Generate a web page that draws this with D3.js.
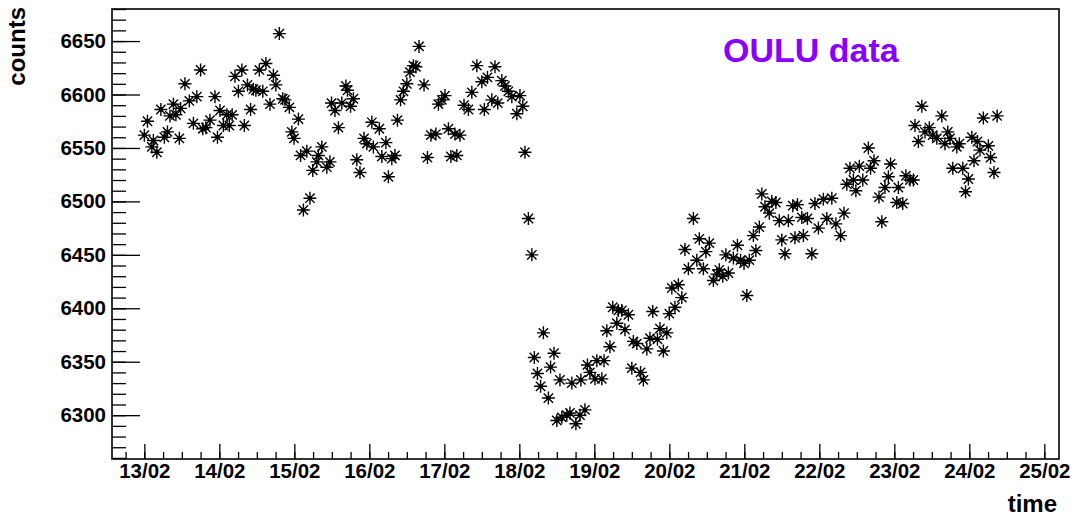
<!DOCTYPE html>
<html>
<head>
<meta charset="utf-8">
<script src="https://cdn.jsdelivr.net/npm/d3@7"></script>
<style>
body { margin: 0; background: #fff; }
svg { display: block; }
text { font-family: "Liberation Sans", Arial, sans-serif; font-weight: bold; }
</style>
</head>
<body>
<div id="chart"></div>
<script>
// hours after 13/02 00:00
const hours = [0, 1, 2.4, 2.9, 4, 5.3, 6.4, 7.4, 8.2, 9.3, 10.1, 11.2, 11.6, 13, 14.4, 15.7, 16.8, 18, 18.7, 19.7,
	21, 22.6, 23.4, 24.2, 25.3, 26.4, 27.2, 28.1, 29, 30.1, 31.2, 32, 33, 34, 34.9, 35.7, 36.8, 37.9, 38.9, 40.2,
	41.3, 42.1, 43.2, 44.3, 45, 46.4, 47.2, 47.9, 49.3, 50, 50.9, 52, 53, 53.9, 55.2, 55.7, 56.8, 58.4, 59.4, 59.9,
	61, 62.1, 63.2, 64.5, 65, 66, 66.9, 68, 69, 70.3, 71.2, 72.8, 73.3, 75.2, 76, 77.3, 78.1, 79.2, 80.2, 81,
	82, 82.9, 84, 85, 86.1, 86.9, 87.9, 89.5, 90.6, 91.7, 93.3, 94.1, 95.2, 96.2, 97.3, 98.1, 99.4, 100, 101, 102.3,
	103.7, 104.8, 106.4, 108, 108.8, 109.8, 111.2, 112.2, 113.1, 114.4, 115.4, 116.5, 117.6, 119.2, 120.2, 121.1, 121.8, 122.9,
	124, 124.8, 125.8, 126.8, 127.7, 129.3, 130, 131.1, 132, 133, 133.6, 135.2, 136.2, 136.8, 138.1, 139.4, 139.7, 141, 141.8,
	142.6, 144.2, 144.8, 146.4, 147.1, 148, 149, 149.9, 151.2, 151.7,
	152.8, 153.8, 154.9, 156, 156.5, 157.6, 158.8, 159.7, 160.8, 161.8, 162.7, 164.2, 165, 166.1, 167.2, 168, 168.8, 169.8,
	170.9, 172, 173, 174.1, 175.7, 176.8, 177.6, 178.9, 179.7, 180.8, 182.1, 183.2, 184, 185.1, 186.1, 186.9, 188.5, 189.8,
	190.8, 191.9, 192.8, 193.6, 194.9, 195.7, 196.8, 197.6, 198.6, 200, 200.8, 202.1, 203.2, 204, 205, 206.1, 207.5, 208.2, 209,
	210.4, 210.9, 212.2, 213.6, 214.6, 215.7, 217.3, 218.4, 220, 221.3, 222.8, 223.9, 224.8, 225.8, 226.9, 227.7, 228.8, 229.9,
	231.7, 232.4, 233.5, 235.1, 236, 237, 238.1, 238.8, 240.8, 241.3, 242.7, 243.7, 245, 246.1, 246.6, 247.7, 248.8, 249.8,
	251.2, 252.3, 253.6, 255.2, 256.2, 257.1, 257.8, 258.7, 260, 260.8, 261.9, 262.8, 263.7, 264.8, 265.5, 266.6, 267.4, 268.5,
	270.1, 270.8, 271.9, 272.9]

const counts = [6562, 6575, 6551, 6557, 6546, 6586, 6560, 6565, 6580, 6591, 6581, 6559, 6587, 6610, 6594, 6573, 6598, 6623, 6568, 6569,
	6576, 6598, 6560, 6585, 6571, 6581, 6571, 6581, 6617, 6603, 6623, 6571, 6609, 6586, 6605, 6604, 6623, 6603, 6629, 6591,
	6618, 6609, 6657, 6596, 6595, 6588, 6565, 6559, 6577, 6543, 6492, 6547, 6503, 6529, 6537, 6543, 6551, 6532, 6537, 6592,
	6585, 6569, 6592, 6608, 6604, 6589, 6596, 6539, 6527, 6559, 6554, 6574, 6551, 6568, 6542, 6555, 6523, 6540, 6543, 6576,
	6595, 6603, 6610, 6621, 6627, 6626, 6645, 6609, 6541, 6562, 6563, 6591, 6595, 6599, 6568, 6542, 6563, 6543, 6562, 6590,
	6586, 6602, 6627, 6612, 6586, 6616, 6595, 6626, 6592, 6613, 6608, 6603, 6598, 6582, 6599, 6589, 6546, 6484,
	6450, 6354, 6339, 6327, 6377, 6316, 6345, 6358, 6295, 6333, 6298, 6300, 6302, 6330, 6292, 6300, 6333, 6305, 6347,
	6340, 6334, 6351, 6334, 6351, 6379, 6364, 6401, 6386, 6398,
	6398, 6380, 6394, 6344, 6369, 6367, 6340, 6333, 6362, 6372, 6397, 6371, 6381, 6360, 6377, 6395, 6419, 6401,
	6422, 6410, 6455, 6437, 6484, 6445, 6465, 6437, 6453, 6461, 6426, 6432, 6436, 6430, 6450, 6433, 6447, 6459,
	6445, 6442, 6412, 6445, 6468, 6454, 6476, 6507, 6495, 6489, 6500, 6499, 6482, 6464, 6451, 6482, 6496, 6466, 6497,
	6485, 6468, 6484, 6451, 6498, 6475, 6502, 6484, 6503, 6479, 6468, 6489, 6516, 6531, 6520, 6510, 6533, 6520,
	6550, 6531, 6538, 6504, 6481, 6513, 6523, 6535, 6499, 6513, 6498, 6524, 6520, 6520, 6571, 6556, 6589, 6565,
	6569, 6562, 6559, 6580, 6554, 6565, 6559, 6531, 6551, 6554, 6531, 6509, 6521, 6560, 6538, 6556, 6548, 6578,
	6552, 6541, 6527, 6580]

const yMajor = [6300, 6350, 6400, 6450, 6500, 6550, 6600, 6650]
const start = Date.UTC(2012, 1, 13)

const W = 1073, H = 520
const margin = {top: 9, right: 14, bottom: 61, left: 112}
const width = W - margin.left - margin.right
const height = H - margin.top - margin.bottom

let data = hours.map((h, i) => ({t: new Date(start + h * 3600e3), v: counts[i]}))

let svg = d3.select("#chart").append("svg")
	.attr("width", W)
	.attr("height", H)

let g = svg.append("g")
	.attr("transform", "translate(" + margin.left + "," + margin.top + ")")

let x = d3.scaleUtc()
	.domain([new Date(start - 10.35 * 3600e3), new Date(start + (12 * 24 + 4.7) * 3600e3)])
	.range([0, width])

let y = d3.scaleLinear()
	.domain([6259, 6680])
	.range([height, 0])

// minor ticks first
g.append("g")
	.attr("class", "xminor")
	.attr("transform", "translate(0," + height + ")")
	.call(d3.axisBottom(x).tickValues(d3.utcHour.every(6).range(x.domain()[0], x.domain()[1])).tickSize(-7).tickFormat(""))

g.append("g")
	.attr("class", "xaxis")
	.attr("transform", "translate(0," + height + ")")
	.call(d3.axisBottom(x).ticks(d3.utcDay.every(1)).tickSize(-15).tickPadding(4).tickFormat(d3.utcFormat("%d/%m")))

g.append("g")
	.attr("class", "yminor")
	.call(d3.axisLeft(y).tickValues(d3.range(6260, 6681, 10)).tickSize(-14).tickFormat(""))

g.append("g")
	.attr("class", "yaxis")
	.call(d3.axisLeft(y).tickValues(yMajor).tickSize(-28).tickPadding(6).tickFormat(d3.format("d")))

g.selectAll(".domain").remove()
g.selectAll(".tick line").attr("stroke", "#000").attr("stroke-width", 1.3)
g.selectAll(".tick text").attr("fill", "#000").style("font-size", "20.5px")

g.append("rect")
	.attr("width", width)
	.attr("height", height)
	.attr("fill", "none")
	.attr("stroke", "#000")
	.attr("stroke-width", 1.6)

// star markers (root style 3)
let r = 6.5, d = r * 0.72
let star = "M" + (-r) + ",0H" + r + "M0," + (-r) + "V" + r +
	"M" + (-d) + "," + (-d) + "L" + d + "," + d + "M" + (-d) + "," + d + "L" + d + "," + (-d)

let marks = g.selectAll(".pt")
	.data(data)
	.enter()
	.append("g")
	.attr("class", "pt")
	.attr("transform", function(p) { return "translate(" + x(p.t) + "," + y(p.v) + ")" })

marks.append("path")
	.attr("d", star)
	.attr("stroke", "#000")
	.attr("stroke-width", 1.4)
	.attr("fill", "none")

marks.append("circle")
	.attr("r", 2.2)
	.attr("fill", "#000")

svg.append("text")
	.attr("transform", "translate(25,7) rotate(-90)")
	.attr("text-anchor", "end")
	.style("font-size", "24px")
	.text("counts")

svg.append("text")
	.attr("x", 1057)
	.attr("y", 512)
	.attr("text-anchor", "end")
	.style("font-size", "24px")
	.text("time")

svg.append("text")
	.attr("x", 723)
	.attr("y", 62)
	.attr("fill", "#8800ff")
	.style("font-size", "34px")
	.text("OULU data")
</script>
</body>
</html>
